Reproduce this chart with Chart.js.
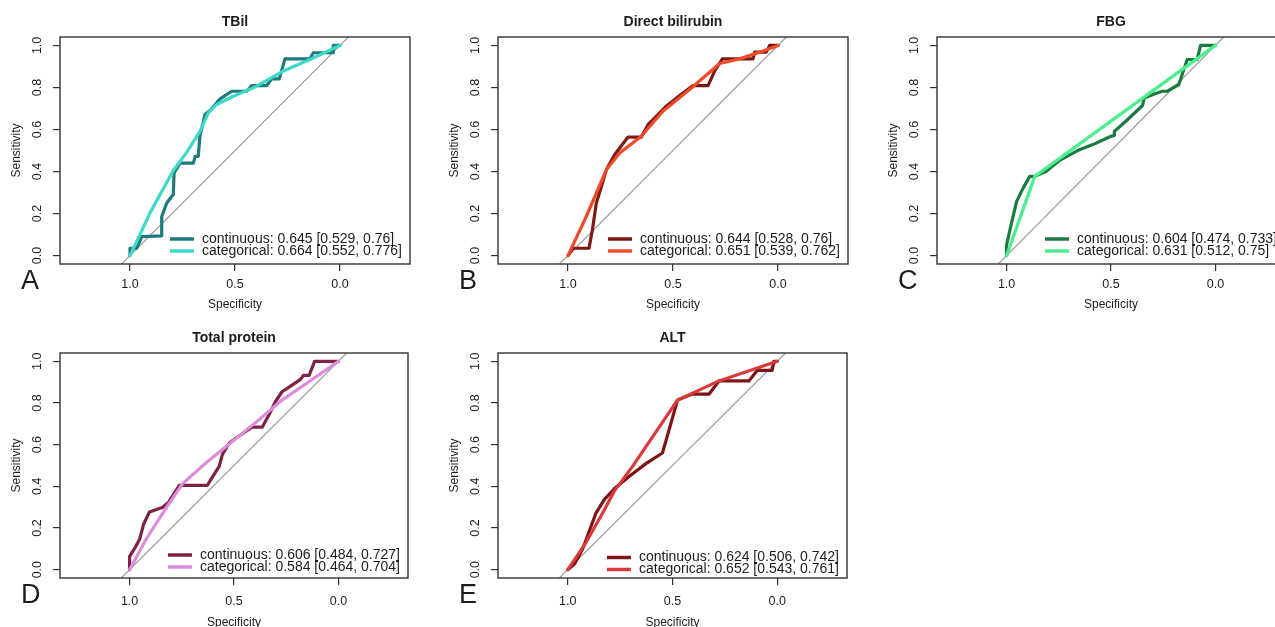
<!DOCTYPE html>
<html>
<head>
<meta charset="utf-8">
<script src="https://cdn.jsdelivr.net/npm/chart.js@4.4.1/dist/chart.umd.min.js"></script>
<style>
  body { margin: 0; width: 1275px; height: 627px; overflow: hidden; background: #fff; position: relative; }
  canvas { position: absolute; }
</style>
</head>
<body>
<canvas id="pA" width="430" height="320" style="left:0;top:0"></canvas>
<canvas id="pB" width="430" height="320" style="left:430px;top:0"></canvas>
<canvas id="pC" width="440" height="320" style="left:860px;top:0"></canvas>
<canvas id="pD" width="430" height="307" style="left:0;top:320px"></canvas>
<canvas id="pE" width="430" height="307" style="left:430px;top:320px"></canvas>
<script>
// ROC points as [specificity, sensitivity]
const tbilContinuous = [[1,0],[1,0.035],[0.968,0.035],[0.944,0.09],[0.849,0.094],[0.849,0.186],[0.825,0.25],[0.802,0.281],[0.794,0.289],[0.79,0.393],[0.762,0.44],[0.698,0.44],[0.69,0.472],[0.675,0.472],[0.667,0.568],[0.643,0.671],[0.619,0.69],[0.571,0.746],[0.516,0.782],[0.444,0.782],[0.421,0.809],[0.349,0.809],[0.325,0.841],[0.289,0.841],[0.262,0.936],[0.143,0.936],[0.127,0.965],[0.032,0.965],[0.032,1],[0,1]];
const tbilCategorical = [[1,0],[0.905,0.202],[0.794,0.405],[0.73,0.491],[0.667,0.591],[0.627,0.679],[0.587,0.719],[0.508,0.758],[0.413,0.798],[0.27,0.878],[0.143,0.933],[0,1]];

const dbilContinuous = [[1,0],[0.976,0.035],[0.9,0.035],[0.884,0.122],[0.865,0.25],[0.841,0.329],[0.817,0.409],[0.778,0.48],[0.714,0.564],[0.651,0.564],[0.619,0.623],[0.587,0.655],[0.532,0.711],[0.468,0.762],[0.405,0.809],[0.333,0.809],[0.302,0.878],[0.265,0.936],[0.119,0.936],[0.111,0.968],[0.056,0.968],[0.04,1],[0,1]];
const dbilCategorical = [[1,0],[0.913,0.186],[0.817,0.409],[0.754,0.488],[0.651,0.568],[0.548,0.687],[0.405,0.803],[0.278,0.914],[0.183,0.936],[0.071,0.973],[0,1]];

const fbgContinuous = [[1,0],[1,0.051],[0.984,0.122],[0.952,0.258],[0.921,0.321],[0.889,0.377],[0.865,0.377],[0.81,0.401],[0.746,0.453],[0.651,0.504],[0.587,0.528],[0.5,0.568],[0.484,0.571],[0.484,0.591],[0.429,0.639],[0.349,0.714],[0.341,0.75],[0.286,0.771],[0.254,0.782],[0.23,0.782],[0.175,0.814],[0.135,0.933],[0.087,0.933],[0.071,1],[0.016,1],[0,1]];
const fbgCategorical = [[1,0],[0.865,0.377],[0,1]];

const tpContinuous = [[1,0],[1,0.064],[0.976,0.102],[0.952,0.146],[0.933,0.218],[0.905,0.277],[0.841,0.3],[0.813,0.324],[0.762,0.405],[0.627,0.405],[0.611,0.432],[0.571,0.496],[0.556,0.552],[0.524,0.607],[0.492,0.631],[0.444,0.663],[0.413,0.684],[0.365,0.684],[0.333,0.742],[0.302,0.806],[0.27,0.854],[0.222,0.886],[0.183,0.912],[0.167,0.933],[0.14,0.933],[0.114,1],[0,1]];
const tpCategorical = [[1,0],[0.921,0.146],[0.825,0.297],[0.746,0.413],[0.635,0.512],[0.508,0.615],[0.381,0.719],[0.27,0.814],[0.143,0.901],[0,1]];

const altContinuous = [[1,0],[0.968,0.027],[0.929,0.099],[0.865,0.273],[0.825,0.337],[0.778,0.388],[0.706,0.448],[0.627,0.509],[0.548,0.56],[0.476,0.814],[0.405,0.843],[0.325,0.843],[0.278,0.906],[0.135,0.906],[0.095,0.957],[0.024,0.957],[0.016,1],[0,1]];
const altCategorical = [[1,0],[0.913,0.13],[0.833,0.273],[0.778,0.377],[0.69,0.497],[0.476,0.814],[0.278,0.906],[0,1]];

const titles = ['TBil', 'Direct bilirubin', 'FBG', 'Total protein', 'ALT'];
const letters = ['A', 'B', 'C', 'D', 'E'];
const legendTexts = [
  ['continuous: 0.645 [0.529, 0.76]', 'categorical: 0.664 [0.552, 0.776]'],
  ['continuous: 0.644 [0.528, 0.76]', 'categorical: 0.651 [0.539, 0.762]'],
  ['continuous: 0.604 [0.474, 0.733]', 'categorical: 0.631 [0.512, 0.75]'],
  ['continuous: 0.606 [0.484, 0.727]', 'categorical: 0.584 [0.464, 0.704]'],
  ['continuous: 0.624 [0.506, 0.742]', 'categorical: 0.652 [0.543, 0.761]']
];
const xTicks = [1, 0.5, 0];
const yTicks = [0, 0.2, 0.4, 0.6, 0.8, 1];

const FONT = '"Liberation Sans", Arial, sans-serif';
const TEXT = '#1c1c1c';

// canvas id, series, colours, plot box inside the canvas, legend row offsets
const panels = [
  { id: 'pA', cont: tbilContinuous, cat: tbilCategorical, colors: ['#1d7b7d', '#3fd9c9'], box: [60, 37, 410, 264], row: 0, legY: [-25, -13] },
  { id: 'pB', cont: dbilContinuous, cat: dbilCategorical, colors: ['#7b1a12', '#ef4b2b'], box: [68, 37, 418, 264], row: 0, legY: [-25, -13] },
  { id: 'pC', cont: fbgContinuous, cat: fbgCategorical, colors: ['#1c7a3f', '#4bef8e'], box: [77, 37, 425, 264], row: 0, legY: [-25, -13] },
  { id: 'pD', cont: tpContinuous, cat: tpCategorical, colors: ['#7d2244', '#db8ddc'], box: [60, 33, 408, 258], row: 1, legY: [-23, -11] },
  { id: 'pE', cont: altContinuous, cat: altCategorical, colors: ['#7c1616', '#d93a3c'], box: [68, 33, 417, 258], row: 1, legY: [-20.5, -8.5] }
];

const X_MIN = -1 / 3, X_MAX = 4 / 3;
const Y_MIN = -0.04, Y_MAX = 1.04;

let toPoints = (arr) => arr.map(p => ({ x: p[0], y: p[1] }));

let makeDecor = (i, panel) => ({
  id: 'decor' + i,
  afterDraw(chart) {
    const { ctx, chartArea: a, scales } = chart;
    const shift = panel.row ? 3.5 : 0;
    ctx.save();

    // plot box
    ctx.strokeStyle = '#333';
    ctx.lineWidth = 1.4;
    ctx.strokeRect(a.left, a.top, a.right - a.left, a.bottom - a.top);

    ctx.fillStyle = TEXT;
    ctx.textAlign = 'center';
    ctx.textBaseline = 'middle';

    // title
    ctx.font = 'bold 14px ' + FONT;
    ctx.fillText(titles[i], (a.left + a.right) / 2, a.top - 15);

    // rotated y tick labels
    ctx.font = '12.5px ' + FONT;
    scales.y.ticks.forEach(t => {
      ctx.save();
      ctx.translate(a.left - 22, scales.y.getPixelForValue(t.value));
      ctx.rotate(-Math.PI / 2);
      ctx.fillText(t.value.toFixed(1), 0, 0);
      ctx.restore();
    });

    // axis titles
    ctx.font = '12px ' + FONT;
    ctx.save();
    ctx.translate(a.left - 43, (a.top + a.bottom) / 2);
    ctx.rotate(-Math.PI / 2);
    ctx.fillText('Sensitivity', 0, 0);
    ctx.restore();
    ctx.fillText('Specificity', (a.left + a.right) / 2, a.bottom + 41 + shift);

    // panel letter
    ctx.font = '27px ' + FONT;
    ctx.textAlign = 'left';
    ctx.textBaseline = 'alphabetic';
    ctx.fillText(letters[i], a.left - 39, a.bottom + 25);

    // legend, bottom right inside the box
    ctx.font = '14px ' + FONT;
    ctx.textBaseline = 'middle';
    const texts = legendTexts[i];
    const w = Math.max(...texts.map(t => ctx.measureText(t).width));
    const tx = a.right - 8 - w;
    texts.forEach((t, k) => {
      const y = a.bottom + panel.legY[k];
      ctx.strokeStyle = panel.colors[k];
      ctx.lineWidth = 3.5;
      ctx.beginPath();
      ctx.moveTo(tx - 32, y);
      ctx.lineTo(tx - 8, y);
      ctx.stroke();
      ctx.fillText(t, tx, y);
    });

    ctx.restore();
  }
});

panels.forEach((panel, i) => {
  const canvas = document.getElementById(panel.id);
  const [l, t, r, b] = panel.box;
  const W = canvas.width, H = canvas.height;
  const lineDs = (data, color, width, order) => ({
    data: data, showLine: true, borderColor: color, borderWidth: width,
    pointRadius: 0, tension: 0, order: order,
    borderCapStyle: 'round', borderJoinStyle: 'round'
  });
  const grid = { drawOnChartArea: false, drawTicks: true, tickLength: 7, color: '#333', lineWidth: 1.2 };

  new Chart(canvas.getContext('2d'), {
    type: 'scatter',
    data: {
      datasets: [
        // chance line sens = 1 - spec across the whole plot
        lineDs([{ x: 1 - Y_MIN, y: Y_MIN }, { x: 1 - Y_MAX, y: Y_MAX }], '#9e9e9e', 1.2, 3),
        lineDs(toPoints(panel.cont), panel.colors[0], 3.2, 2),
        lineDs(toPoints(panel.cat), panel.colors[1], 3.2, 1)
      ]
    },
    options: {
      responsive: false,
      animation: false,
      devicePixelRatio: 1,
      layout: { padding: { left: 0, top: t, right: W - r, bottom: 0 } },
      plugins: { legend: { display: false }, tooltip: { enabled: false } },
      scales: {
        x: {
          type: 'linear', reverse: true, min: X_MIN, max: X_MAX,
          afterBuildTicks: (s) => { s.ticks = xTicks.map(v => ({ value: v })); },
          afterFit: (s) => { s.height = H - b; },
          ticks: {
            color: TEXT, font: { family: FONT, size: 12.5 }, padding: panel.row ? 9.5 : 6,
            maxRotation: 0, autoSkip: false, callback: (v) => v.toFixed(1)
          },
          grid: grid,
          border: { display: false }
        },
        y: {
          type: 'linear', min: Y_MIN, max: Y_MAX,
          afterBuildTicks: (s) => { s.ticks = yTicks.map(v => ({ value: v })); },
          afterFit: (s) => { s.width = l; },
          ticks: { display: false },
          grid: grid,
          border: { display: false }
        }
      }
    },
    plugins: [makeDecor(i, panel)]
  });
});
</script>
</body>
</html>
